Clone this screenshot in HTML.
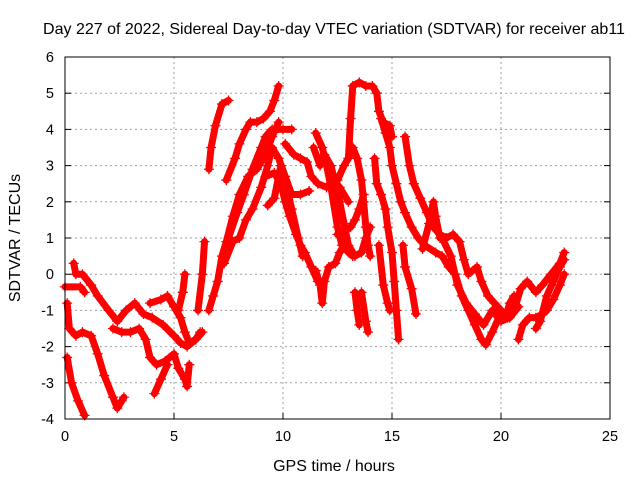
<!DOCTYPE html>
<html><head><meta charset="utf-8"><style>
html,body{margin:0;padding:0;background:#fff;}
svg{display:block;font-family:"Liberation Sans",sans-serif;}
</style></head><body>
<svg id="chart" width="640" height="480" viewBox="0 0 640 480"></svg>
<script>
// ---- data ----
const xTicks = [0,5,10,15,20,25];
const yTicks = [-4,-3,-2,-1,0,1,2,3,4,5,6];
const titleText = "Day 227 of 2022, Sidereal Day-to-day VTEC variation (SDTVAR) for receiver ab11";
const tracks = [
 [[0.1,-0.8],[0.2,-1.5],[0.5,-1.7],[0.8,-1.6],[1.2,-1.7],[1.5,-2.2],[1.8,-2.8],[2.2,-3.4],[2.4,-3.7],[2.6,-3.5],[2.7,-3.4]],
 [[0.1,-2.3],[0.3,-3.0],[0.6,-3.5],[0.9,-3.9]],
 [[0.4,0.3],[0.5,0.0],[0.8,0.0],[1.2,-0.3],[1.5,-0.6],[2.0,-1.0],[2.4,-1.3],[2.8,-1.0],[3.2,-0.8],[3.6,-1.1],[4.0,-1.2],[4.5,-1.4],[5.0,-1.7],[5.3,-1.9],[5.6,-2.0],[6.0,-1.8],[6.2,-1.6]],
 [[0.0,-0.35],[0.7,-0.35],[0.9,-0.5]],
 [[2.2,-1.5],[2.6,-1.6],[3.0,-1.6],[3.4,-1.5],[3.7,-1.8],[3.9,-2.3],[4.2,-2.5],[4.6,-2.4],[5.0,-2.2],[5.2,-2.6],[5.5,-2.9],[5.6,-3.1],[5.7,-2.5]],
 [[4.1,-3.3],[4.4,-2.9],[4.7,-2.5]],
 [[3.9,-0.8],[4.4,-0.7],[4.7,-0.6],[5.0,-0.9],[5.3,-1.2],[5.5,-1.6],[5.7,-1.9],[6.0,-1.8],[6.3,-1.6]],
 [[5.2,-1.0],[5.4,-0.5],[5.5,0.0]],
 [[6.1,-1.0],[6.3,0.0],[6.4,0.9]],
 [[6.6,-1.0],[6.8,-0.6],[7.0,-0.2],[7.2,0.5],[7.4,0.9],[7.7,1.6],[8.0,2.2],[8.4,2.7],[8.8,2.9],[9.2,3.3],[9.5,3.8],[9.8,4.2]],
 [[6.6,2.9],[6.7,3.5],[6.9,4.1],[7.2,4.7],[7.5,4.8]],
 [[7.4,2.6],[7.8,3.2],[8.0,3.6],[8.3,4.0],[8.5,4.2],[8.8,4.2],[9.1,4.3],[9.4,4.5],[9.6,4.8],[9.8,5.2]],
 [[7.3,0.3],[7.7,0.9],[8.0,1.0],[8.3,1.5],[8.6,1.8],[9.0,2.4],[9.3,3.0],[9.5,3.5],[9.8,3.2],[10.1,2.7],[10.4,2.2],[10.8,2.2],[11.2,2.3]],
 [[7.5,1.0],[7.9,1.7],[8.2,2.2],[8.6,2.9],[9.0,3.5],[9.2,3.8],[9.5,4.0],[10.0,4.0],[10.4,4.0]],
 [[9.2,2.7],[9.6,2.8],[9.9,2.5],[10.1,2.0],[10.3,1.6],[10.6,1.1],[10.8,0.8],[11.0,0.6],[11.3,0.2],[11.6,-0.2]],
 [[9.3,1.9],[9.6,2.1],[9.9,3.0],[10.1,2.6],[10.4,1.8],[10.7,1.0],[10.9,0.5]],
 [[10.1,3.6],[10.5,3.3],[10.8,3.2],[11.1,3.1],[11.3,2.7],[11.6,2.5],[12.0,2.4],[12.3,2.6],[12.6,2.4],[13.0,2.0]],
 [[11.4,3.5],[11.7,3.0],[11.9,3.3],[12.2,3.0],[12.4,2.5],[12.6,2.0],[12.8,1.4],[13.0,0.8],[13.3,0.5],[13.6,0.6],[13.8,1.0],[14.0,1.3]],
 [[11.5,3.9],[11.8,3.5],[12.0,3.0],[12.2,2.4],[12.5,1.3],[12.7,0.8]],
 [[11.5,0.1],[11.7,-0.3],[11.8,-0.8],[11.9,-0.2],[12.1,0.2],[12.4,0.3],[12.6,0.6],[12.8,0.8],[13.0,0.6],[13.2,0.5]],
 [[12.5,1.1],[12.8,1.2],[13.1,1.3],[13.3,1.5],[13.5,1.8],[13.7,2.2]],
 [[12.5,2.6],[12.8,3.0],[13.0,3.2],[13.2,3.5],[13.4,3.2],[13.6,2.6],[13.7,2.0],[13.8,1.3],[13.9,0.8],[14.0,0.5]],
 [[13.0,3.2],[13.1,4.3],[13.2,5.2],[13.5,5.3],[13.8,5.2],[14.1,5.2],[14.3,5.0],[14.4,4.5],[14.6,4.2],[14.9,4.1],[15.0,3.8]],
 [[14.2,3.2],[14.3,2.5],[14.5,2.2],[14.7,1.8],[14.8,1.3],[15.0,0.6],[15.1,-0.2],[15.2,-1.0],[15.3,-1.8]],
 [[13.3,-0.5],[13.4,-1.0],[13.5,-1.4]],
 [[13.6,-0.5],[13.8,-1.3],[13.9,-1.6]],
 [[14.4,0.8],[14.6,-0.3],[14.8,-0.8],[14.9,-1.0]],
 [[15.5,0.8],[15.6,0.2],[15.9,-0.4],[16.1,-1.1]],
 [[14.5,4.3],[14.7,3.9],[14.9,3.5],[15.0,3.0],[15.2,2.5],[15.4,2.0],[15.6,1.7],[15.9,1.3],[16.2,1.0],[16.5,0.8],[17.0,0.6],[17.3,0.5],[17.6,0.2],[17.9,0.0],[18.2,-0.6],[18.5,-1.0],[18.8,-1.4],[19.1,-1.8],[19.3,-1.95],[19.6,-1.6],[19.9,-1.2],[20.2,-1.2],[20.4,-0.8],[20.6,-0.6]],
 [[15.6,3.8],[15.8,3.0],[16.0,2.5],[16.3,2.1],[16.6,1.7],[16.9,1.3],[17.2,1.1],[17.5,1.0],[17.8,1.1],[18.1,0.9],[18.3,0.4],[18.5,0.0],[18.9,0.2],[19.1,-0.2],[19.4,-0.6],[19.7,-0.8],[20.0,-1.0],[20.3,-1.2],[20.6,-1.0],[20.9,-0.4],[21.2,-0.2],[21.6,-0.5],[21.9,-0.3],[22.3,0.0],[22.7,0.3],[22.9,0.6]],
 [[16.4,0.7],[16.7,1.4],[16.9,2.0],[17.0,1.6],[17.2,1.0]],
 [[17.3,1.0],[17.7,0.5],[18.0,-0.3],[18.4,-0.8],[18.8,-1.1],[19.2,-1.4],[19.6,-1.0],[20.0,-1.3],[20.4,-1.2],[20.8,-0.9]],
 [[20.8,-1.8],[21.0,-1.4],[21.3,-1.2],[21.6,-1.2],[21.9,-1.1],[22.1,-1.0],[22.4,-0.7],[22.7,-0.3],[22.9,0.0]],
 [[21.6,-1.5],[21.8,-1.3],[22.1,-0.6],[22.4,-0.2],[22.7,0.2],[22.9,0.4]]
];
// ---- layout ----
const L=65,R=610,T=57,B=419;
const sx=v=>L+(v-0)/(25-0)*(R-L);
const sy=v=>B-(v-(-4))/(6-(-4))*(B-T);
const NS="http://www.w3.org/2000/svg";
const svg=document.getElementById('chart');
function mk(tag,attrs,parent){const e=document.createElementNS(NS,tag);for(const k in attrs)e.setAttribute(k,attrs[k]);(parent||svg).appendChild(e);return e;}

const grid=mk('g',{});


xTicks.forEach(t=>{
  if(t>0&&t<25){const l=mk('line',{x1:sx(t),x2:sx(t),y1:T,y2:B,stroke:'#a0a0a0','stroke-dasharray':'2,3','stroke-width':1},grid);
  }
  const tk=mk('line',{x1:sx(t),x2:sx(t),y1:B,y2:B-6,stroke:'#000'},grid);
  
  const tx=mk('text',{x:sx(t),y:B+22,'text-anchor':'middle','font-size':14.5,fill:'#000'});
  tx.textContent=t;
  
});
yTicks.forEach(t=>{
  if(t>-4&&t<6){const l=mk('line',{x1:L,x2:R,y1:sy(t),y2:sy(t),stroke:'#a0a0a0','stroke-dasharray':'2,3','stroke-width':1},grid);
  }
  const tk=mk('line',{x1:L,x2:L+6,y1:sy(t),y2:sy(t),stroke:'#000'},grid);
  
  const tk2=mk('line',{x1:R,x2:R-6,y1:sy(t),y2:sy(t),stroke:'#000'},grid);
  
  const tx=mk('text',{x:L-11,y:sy(t)+5,'text-anchor':'end','font-size':14.5,fill:'#000'});
  tx.textContent=t;
  
});

const data=mk('g',{});


tracks.forEach(tr=>{
  const pl=mk('polyline',{points:tr.map(p=>sx(p[0])+','+sy(p[1])).join(' '),fill:'none',stroke:'#ff0000','stroke-width':7,'stroke-linejoin':'round','stroke-linecap':'round'},data);
  
  
  tr.forEach(p=>{
    const x=sx(p[0]),y=sy(p[1]);
    const m=mk('path',{d:`M${x-5},${y}H${x+5}M${x},${y-5}V${y+5}`,stroke:'#ff0000','stroke-width':1.3},data);
    
    
  });
});

const frame=mk('rect',{x:L,y:T,width:R-L,height:B-T,fill:'none',stroke:'#000','stroke-width':1});



const title=mk('text',{x:334,y:34,'text-anchor':'middle','font-size':16,fill:'#000'});
title.textContent=titleText;


const xl=mk('text',{x:334,y:471,'text-anchor':'middle','font-size':16,fill:'#000'});
xl.textContent="GPS time / hours";


const yl=mk('text',{x:20,y:238,'text-anchor':'middle','font-size':16,fill:'#000',transform:'rotate(-90 20 238)'});
yl.textContent="SDTVAR / TECUs";


</script>
</body></html>
